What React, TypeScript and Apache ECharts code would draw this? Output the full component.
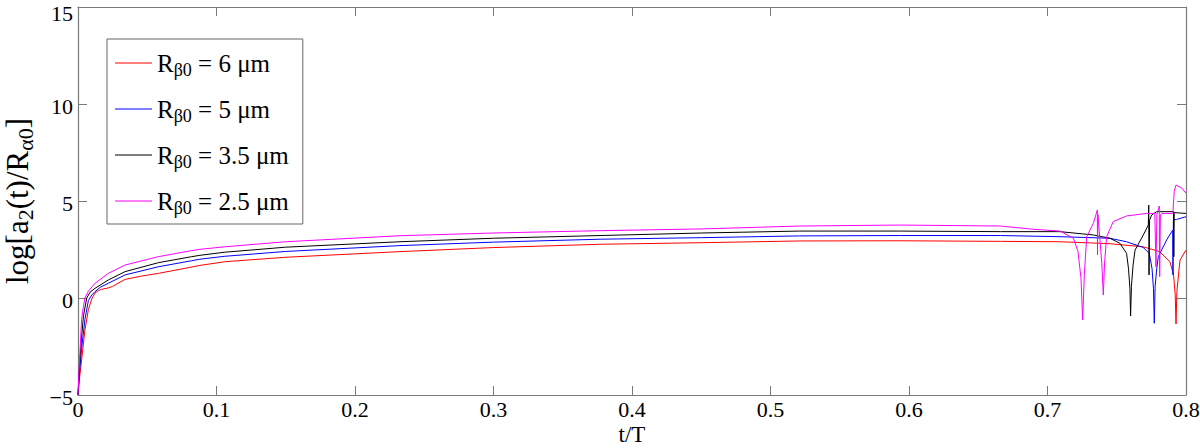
import React, { useEffect, useRef } from "react";
import * as echarts from "echarts";

const xTicks = [0, 0.1, 0.2, 0.3, 0.4, 0.5, 0.6, 0.7, 0.8];
const yTicks = [-5, 0, 5, 10, 15];

const legendLabels = ["6", "5", "3.5", "2.5"];
const seriesColors = ["#ff0000", "#0000ff", "#000000", "#ff00ff"];

const tRed = [0, 0.001, 0.0026, 0.005, 0.0075, 0.0099, 0.0123, 0.0147, 0.0171, 0.022, 0.025, 0.028, 0.034, 0.046, 0.058, 0.07, 0.088, 0.106, 0.15, 0.2325, 0.3, 0.377, 0.45, 0.521, 0.593, 0.666, 0.709, 0.745, 0.769, 0.781, 0.7884, 0.791, 0.7922, 0.7928, 0.7934, 0.795, 0.7957, 0.8];
const yRed = [-5, -4.2, -3.2, -1.65, -0.6, -0.05, 0.26, 0.38, 0.45, 0.52, 0.6, 0.72, 0.96, 1.13, 1.27, 1.43, 1.68, 1.87, 2.1, 2.39, 2.6, 2.77, 2.85, 2.94, 2.95, 2.92, 2.9, 2.8, 2.64, 2.39, 1.87, 1.2, 0.2, -1.34, 0.3, 1.5, 1.96, 2.47];

const tBlue = [0, 0.001, 0.0026, 0.005, 0.0075, 0.0099, 0.0123, 0.016, 0.0219, 0.034, 0.058, 0.082, 0.088, 0.106, 0.15, 0.2325, 0.3, 0.377, 0.45, 0.521, 0.593, 0.666, 0.709, 0.745, 0.757, 0.769, 0.7735, 0.7755, 0.7765, 0.7771, 0.7777, 0.779, 0.78, 0.786, 0.7904, 0.7906, 0.7909, 0.7932, 0.8];
const yBlue = [-5, -3.9, -2.6, -1.1, -0.13, 0.15, 0.33, 0.55, 0.76, 1.19, 1.61, 1.92, 2.0, 2.15, 2.4, 2.7, 2.88, 3.03, 3.11, 3.2, 3.22, 3.22, 3.16, 3.08, 2.9, 2.61, 2.3, 1.5, 0.5, -1.3, 0.6, 1.6, 2.13, 2.99, 3.5, 1.19, 4.02, 4.05, 4.19];

const tBlack = [0, 0.001, 0.0026, 0.004, 0.0063, 0.0087, 0.0123, 0.0219, 0.034, 0.058, 0.082, 0.088, 0.106, 0.15, 0.2325, 0.3, 0.377, 0.45, 0.521, 0.593, 0.666, 0.709, 0.733, 0.745, 0.7523, 0.7571, 0.7585, 0.7595, 0.76, 0.7606, 0.7618, 0.7632, 0.7692, 0.7728, 0.7731, 0.7733, 0.7737, 0.7752, 0.7788, 0.791, 0.7912, 0.7915, 0.8];
const yBlack = [-5, -3.6, -2.0, -0.9, 0, 0.3, 0.5, 0.93, 1.36, 1.82, 2.13, 2.2, 2.36, 2.62, 2.9, 3.08, 3.22, 3.35, 3.45, 3.45, 3.42, 3.42, 3.25, 3.08, 2.82, 2.3, 1.5, 0.5, -0.93, 0.6, 1.7, 2.47, 3.25, 3.76, 4.79, 1.19, 4.0, 4.28, 4.45, 4.45, 2.13, 4.4, 4.36];

const tMagenta = [0, 0.0007, 0.0014, 0.0026, 0.0038, 0.005, 0.0075, 0.0123, 0.0219, 0.034, 0.058, 0.082, 0.088, 0.106, 0.15, 0.2325, 0.3, 0.377, 0.45, 0.521, 0.593, 0.666, 0.69, 0.709, 0.7187, 0.722, 0.7242, 0.7254, 0.7266, 0.7283, 0.7331, 0.736, 0.7361, 0.7364, 0.7375, 0.7392, 0.7403, 0.7412, 0.7427, 0.7475, 0.7571, 0.7716, 0.7775, 0.7783, 0.779, 0.7807, 0.781, 0.7815, 0.7824, 0.7905, 0.7915, 0.7928, 0.7969, 0.8];
const yMagenta = [-5, -3.8, -2.8, -1.1, -0.5, 0, 0.35, 0.76, 1.27, 1.7, 2.13, 2.44, 2.51, 2.64, 2.9, 3.21, 3.35, 3.47, 3.56, 3.71, 3.76, 3.71, 3.54, 3.45, 3.08, 2.4, 1.0, -1.13, 1.2, 3.16, 3.85, 4.54, 2.22, 4.3, 3.3, 1.8, 0.15, 1.8, 3.16, 3.94, 4.23, 4.36, 4.36, 1.61, 4.3, 4.74, 1.1, 4.3, 4.36, 4.36, 5.5, 5.82, 5.67, 5.4];

const allT = [tRed, tBlue, tBlack, tMagenta];
const allY = [yRed, yBlue, yBlack, yMagenta];

const FONT = "'Liberation Serif', 'Times New Roman', serif";
const AXIS_COLOR = "#7a7a7a";

export default function App() {
  const ref = useRef<HTMLDivElement>(null);
  useEffect(() => {
    if (!ref.current) return;
    const chart = echarts.init(ref.current, undefined, { renderer: "svg" });
    const fmtX = (v: number) => (v === 0 ? "0" : String(+v.toFixed(1)));
    const fmtY = (v: number) => {
      const s = String(v).replace("-", "\u2212");
      return v === yTicks[yTicks.length - 1] ? `{top|${s}}` : `{n|${s}}`;
    };
    const tickCommon = { inside: true, length: 9, lineStyle: { color: AXIS_COLOR } };
    const lineCommon = { show: true, onZero: false, lineStyle: { color: AXIS_COLOR, width: 1.2 } };
    const series = legendLabels.map((lab, i) => ({
      name: lab,
      type: "line",
      xAxisIndex: 0,
      yAxisIndex: 0,
      symbol: "none",
      showSymbol: false,
      smooth: false,
      lineStyle: { color: seriesColors[i], width: 1 },
      itemStyle: { color: seriesColors[i] },
      data: allT[i].map((t, j) => [t, allY[i][j]]),
    }));
    chart.setOption({
      animation: false,
      backgroundColor: "#ffffff",
      textStyle: { fontFamily: FONT },
      grid: { left: 78, right: 14, top: 7, bottom: 53, containLabel: false, outerBoundsMode: "none" },
      legend: {
        show: true,
        orient: "vertical",
        left: 107,
        top: 39,
        padding: [8, 14, 7, 8],
        itemGap: 14,
        itemWidth: 37,
        itemHeight: 1.2,
        icon: "rect",
        borderColor: "#666666",
        borderWidth: 1,
        backgroundColor: "#ffffff",
        data: legendLabels,
        formatter: (name: string) => `{r|R}{s|\u03b20}{r| = ${name} \u03bcm}`,
        textStyle: {
          fontFamily: FONT,
          color: "#000",
          rich: {
            r: { fontFamily: FONT, fontSize: 25, lineHeight: 27, color: "#000" },
            s: { fontFamily: FONT, fontSize: 18, lineHeight: 17, padding: [14, 0, 0, 0], color: "#000" },
          },
        },
      },
      xAxis: [
        {
          type: "value",
          position: "bottom",
          min: xTicks[0],
          max: xTicks[xTicks.length - 1],
          interval: 0.1,
          axisLine: lineCommon,
          axisTick: tickCommon,
          splitLine: { show: false },
          axisLabel: { formatter: fmtX, color: "#000", fontFamily: FONT, fontSize: 22, lineHeight: 22, margin: 3 },
          name: "t/T",
          nameLocation: "middle",
          nameGap: 28,
          nameMoveOverlap: false,
          nameTextStyle: { fontFamily: FONT, fontSize: 23, lineHeight: 23, color: "#000" },
        },
        {
          type: "value",
          position: "top",
          min: xTicks[0],
          max: xTicks[xTicks.length - 1],
          interval: 0.1,
          axisLine: lineCommon,
          axisTick: tickCommon,
          splitLine: { show: false },
          axisLabel: { show: false },
        },
      ],
      yAxis: [
        {
          type: "value",
          position: "left",
          min: yTicks[0],
          max: yTicks[yTicks.length - 1],
          interval: 5,
          axisLine: lineCommon,
          axisTick: tickCommon,
          splitLine: { show: false },
          axisLabel: {
            formatter: fmtY,
            color: "#000",
            fontFamily: FONT,
            fontSize: 22,
            margin: 5,
            rich: {
              n: { fontFamily: FONT, fontSize: 22, lineHeight: 22, padding: [4, 0, 0, 0], color: "#000" },
              top: { fontFamily: FONT, fontSize: 22, lineHeight: 22, padding: [12, 0, 0, 0], color: "#000" },
            },
          },
          name: "{m|log[a}{s|2}{m|(t)/R}{s|\u03b10}{m|]}",
          nameLocation: "middle",
          nameRotate: 90,
          nameGap: 46,
          nameMoveOverlap: false,
          nameTextStyle: {
            fontFamily: FONT,
            color: "#000",
            rich: {
              m: { fontFamily: FONT, fontSize: 31, lineHeight: 30, color: "#000" },
              s: { fontFamily: FONT, fontSize: 22, lineHeight: 20, padding: [16, 0, 0, 0], color: "#000" },
            },
          },
        },
        {
          type: "value",
          position: "right",
          min: yTicks[0],
          max: yTicks[yTicks.length - 1],
          interval: 5,
          axisLine: lineCommon,
          axisTick: tickCommon,
          splitLine: { show: false },
          axisLabel: { show: false },
        },
      ],
      series,
    });
    return () => chart.dispose();
  }, []);
  return (
    <div
      ref={ref}
      style={{ position: "fixed", left: 0, top: 0, width: 1200, height: 448, background: "#fff" }}
    />
  );
}
